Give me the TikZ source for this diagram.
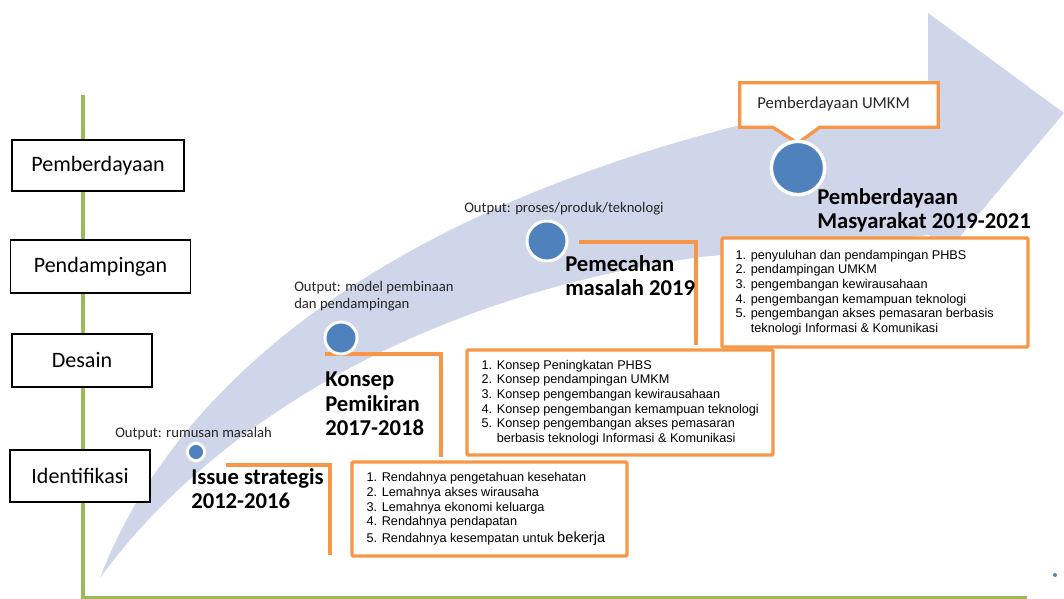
\documentclass[tikz,border=0pt]{standalone}
\usepackage{fontspec}
\setmainfont{Carlito}
\newfontfamily\listfont{Liberation Sans}
\usetikzlibrary{calc}
\definecolor{BandClr}{RGB}{208,214,233}
\definecolor{DotClr}{RGB}{79,129,189}
\definecolor{FrameClr}{RGB}{247,150,70}
\definecolor{AxisClr}{RGB}{155,187,89}

\begin{document}
\begin{tikzpicture}[x=0.75pt,y=-0.75pt,
  stage/.style={draw=black,line width=1.1pt,fill=white,inner sep=0pt,font=\fontsize{16.5}{18}\selectfont},
  dot/.style={circle,fill=DotClr,draw=white,line width=2.2pt,inner sep=0pt},
  bracket/.style={draw=FrameClr,line width=2.6pt},
  listbox/.style={draw=FrameClr,line width=2.5pt,fill=white,rounded corners=1pt,inner sep=0pt},
  listtext/.style={anchor=west,align=left,inner sep=0pt,font=\listfont\fontsize{9.5}{11}\selectfont},
  title/.style={anchor=north west,align=left,inner sep=0pt,font=\bfseries\fontsize{17}{18.3}\selectfont},
  output/.style={anchor=north west,align=left,inner sep=0pt,text=black!85,font=\fontsize{11}{12.8}\selectfont}]
\useasboundingbox (0,0) rectangle (1064,599);

% arrow band
\fill[BandClr] (100,578) .. controls (160,420) and (330,230) .. (740,125)
  -- (928,100) -- (928,13) -- (1064,113) -- (930,272) -- (930,235)
  -- (700,257) .. controls (400,300) and (200,440) .. (100,578) -- cycle;

% axis
\draw[AxisClr,line width=2.3pt] (83,95) -- (83,598) -- (1027,598);

% stages
\node[stage,minimum width=129pt,minimum height=38.25pt] (pemb) at (98,165.5) {Pemberdayaan};
\node[stage,minimum width=135pt,minimum height=39.75pt] (pend) at (100.5,266.5) {Pendampingan};
\node[stage,minimum width=105pt,minimum height=39.75pt] (des) at (82,360.5) {Desain};
\node[stage,minimum width=105pt,minimum height=39pt] (iden) at (80,476) {Identifikasi};

% brackets
\coordinate (issueA) at (226,465);
\coordinate (issueB) at (330,555);
\coordinate (konsepA) at (325,354);
\coordinate (konsepB) at (441,457);
\coordinate (pecahA) at (579,242);
\coordinate (pecahB) at (696,345);
\draw[bracket] (issueA) -| (issueB);
\draw[bracket] (konsepA) -| (konsepB);
\draw[bracket] (pecahA) -| (pecahB);

% callout
\path node[inner sep=0pt,minimum width=148.5pt,minimum height=33pt] (umkm) at (839,105) {};
\draw[FrameClr,line width=2.5pt,fill=white] (umkm.north west) -- (umkm.north east)
  -- (umkm.south east) -- ($(umkm.south west)+(80,0)$) -- ($(umkm.south west)+(58,16)$)
  -- ($(umkm.south west)+(33,0)$) -- (umkm.south west) -- cycle;
\node[output,font=\fontsize{12.5}{14}\selectfont] (umkmtxt) at (757,97) {Pemberdayaan UMKM};

% circles
\node[dot,minimum size=13pt] (d1) at (196,452) {};
\node[dot,minimum size=24pt] (d2) at (341,338) {};
\node[dot,minimum size=30pt] (d3) at (547,241) {};
\node[dot,minimum size=40pt,line width=2.6pt] (d4) at (798,168) {};
\node[circle,fill=DotClr,inner sep=0pt,minimum size=3pt] (spot) at (1055,575) {};

% list boxes
\node[listbox,minimum width=206.25pt,minimum height=70.5pt] (idbox) at (489.5,509) {};
\node[listbox,minimum width=229.5pt,minimum height=78.75pt] (dsbox) at (620,402.5) {};
\node[listbox,minimum width=229.5pt,minimum height=81.75pt] (pbbox) at (875,292.5) {};

\node[listtext] (idlist) at ($(idbox.west)+(16,0)$) {1. Rendahnya pengetahuan kesehatan\\
  2. Lemahnya akses wirausaha\\
  3. Lemahnya ekonomi keluarga\\
  4. Rendahnya pendapatan\\[1.5pt]
  5. Rendahnya kesempatan untuk {\fontsize{11}{11}\selectfont bekerja}};
\node[listtext] (dslist) at ($(dsbox.west)+(16,0)$) {1. Konsep Peningkatan PHBS\\
  2. Konsep pendampingan UMKM\\
  3. Konsep pengembangan kewirausahaan\\
  4. Konsep pengembangan kemampuan teknologi\\
  5. Konsep pengembangan akses pemasaran\\
  \hphantom{5. }berbasis teknologi Informasi \& Komunikasi};
\node[listtext] (pblist) at ($(pbbox.west)+(15,0)$) {1. penyuluhan dan pendampingan PHBS\\
  2. pendampingan UMKM\\
  3. pengembangan kewirausahaan\\
  4. pengembangan kemampuan teknologi\\
  5. pengembangan akses pemasaran berbasis\\
  \hphantom{5. }teknologi Informasi \& Komunikasi};

% titles
\node[title] (issue) at (191,468) {Issue strategis\\2012-2016};
\node[title] (konsep) at (325,372) {Konsep\\Pemikiran\\2017-2018};
\node[title] (pecah) at (565,255) {Pemecahan\\masalah 2019};
\node[title] (masy) at (817,188) {Pemberdayaan\\Masyarakat 2019-2021};

% outputs
\node[output] (out1) at (115,427) {Output: rumusan masalah};
\node[output] (out2) at (294,281) {Output: model pembinaan\\dan pendampingan};
\node[output] (out3) at (464,202) {Output: proses/produk/teknologi};

\end{tikzpicture}
\end{document}
